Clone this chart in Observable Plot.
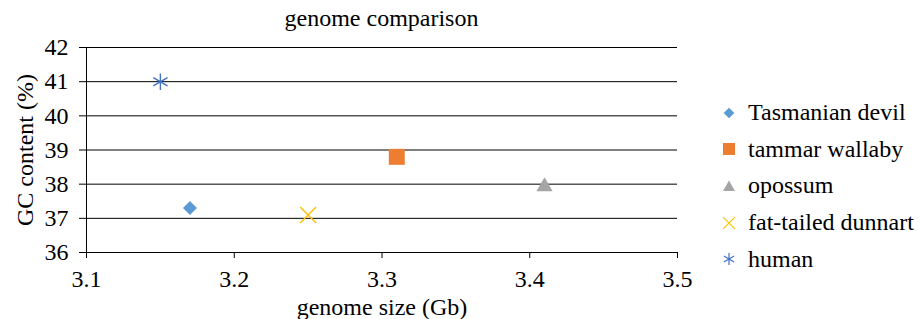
<!DOCTYPE html>
<html>
<head>
<meta charset="utf-8">
<script src="https://cdn.jsdelivr.net/npm/d3@7"></script>
<script src="https://cdn.jsdelivr.net/npm/@observablehq/plot@0.6"></script>
<style>
  html, body { margin: 0; padding: 0; background: #fff; }
  #wrap { position: relative; width: 919px; height: 319px; font-family: "Liberation Serif", "Times New Roman", serif; color: #000; }
  #wrap, #wrap * { font-family: "Liberation Serif", "Times New Roman", serif !important; }
  #title { position: absolute; left: 86px; width: 591px; top: 6px; text-align: center; font-size: 24px; line-height: 24px; }
  #legend { position: absolute; left: 721px; top: 94.5px; }
  .row { display: flex; align-items: center; height: 36.6px; font-size: 24px; }
  .row svg { margin-right: 11px; }
</style>
</head>
<body>
<div id="wrap">
  <div id="chart"></div>
  <div id="title">genome comparison</div>
  <div id="legend"></div>
</div>
<script>
const titleText = "genome comparison";
const xLabel = "genome size (Gb)";
const yLabel = "GC content (%)";
const species = ["Tasmanian devil", "tammar wallaby", "opossum", "fat-tailed dunnart", "human"];
const genomeSize = [3.17, 3.31, 3.41, 3.25, 3.15];
const gcContent = [37.3, 38.8, 38.0, 37.1, 41.0];
const xTicks = [3.1, 3.2, 3.3, 3.4, 3.5];
const yTicks = [36, 37, 38, 39, 40, 41, 42];

// styles (kept apart from the data)
const colors = ["#5B9BD5", "#ED7D31", "#A5A5A5", "#FFC000", "#4472C4"];
const symbolNames = ["diamond2", "square", "triangle", "times", "asterisk"];
const filled = [true, true, true, false, false];
const radii = [6.3, 9, 6, 7.3, 7.8];
const dys = [0, 0, 2.5, 0, 0];

const dotMarks = species.map((s, i) => Plot.dot([i], {
  x: j => genomeSize[j],
  y: j => gcContent[j],
  symbol: symbolNames[i],
  r: radii[i],
  dy: dys[i],
  fill: filled[i] ? colors[i] : "none",
  stroke: filled[i] ? "none" : colors[i],
  strokeWidth: 1.4
}));

const chart = Plot.plot({
  width: 919,
  height: 319,
  marginLeft: 86,
  marginRight: 242,
  marginTop: 47,
  marginBottom: 67,
  style: { fontFamily: "'Liberation Serif', 'Times New Roman', serif", fontSize: "24px", color: "#000", background: "#fff", overflow: "visible" },
  x: { domain: [xTicks[0], xTicks[xTicks.length - 1]] },
  y: { domain: [yTicks[0], yTicks[yTicks.length - 1]] },
  marks: [
    Plot.ruleY(yTicks, { stroke: "#000", strokeWidth: 1 }),
    Plot.ruleX([xTicks[0]], { stroke: "#000", strokeWidth: 1 }),
    Plot.axisY({ ticks: yTicks, tickFormat: d => String(d), tickSize: 7, tickPadding: 11, label: yLabel, labelAnchor: "center", labelArrow: "none", labelOffset: 71 }),
    Plot.axisX({ ticks: xTicks, tickFormat: d => d.toFixed(1), tickSize: 6, tickPadding: 11, label: xLabel, labelAnchor: "center", labelArrow: "none", labelOffset: 62 }),
    ...dotMarks
  ]
});
document.getElementById("chart").appendChild(chart);
document.getElementById("title").textContent = titleText;

// legend
const legend = d3.select("#legend");
const symbolTypes = { diamond2: d3.symbolDiamond2, square: d3.symbolSquare, triangle: d3.symbolTriangle, times: d3.symbolTimes, asterisk: d3.symbolAsterisk };
const legendSizes = [72, 144, 62, 90, 100];
species.forEach((s, i) => {
  const row = legend.append("div").attr("class", "row");
  const svg = row.append("svg").attr("width", 16).attr("height", 16);
  svg.append("path")
    .attr("transform", `translate(8,${symbolNames[i] === "triangle" ? 9.5 : 8})`)
    .attr("d", d3.symbol(symbolTypes[symbolNames[i]], legendSizes[i])())
    .attr("fill", filled[i] ? colors[i] : "none")
    .attr("stroke", filled[i] ? "none" : colors[i])
    .attr("stroke-width", 1.2);
  row.append("span").text(s);
});
</script>
</body>
</html>
